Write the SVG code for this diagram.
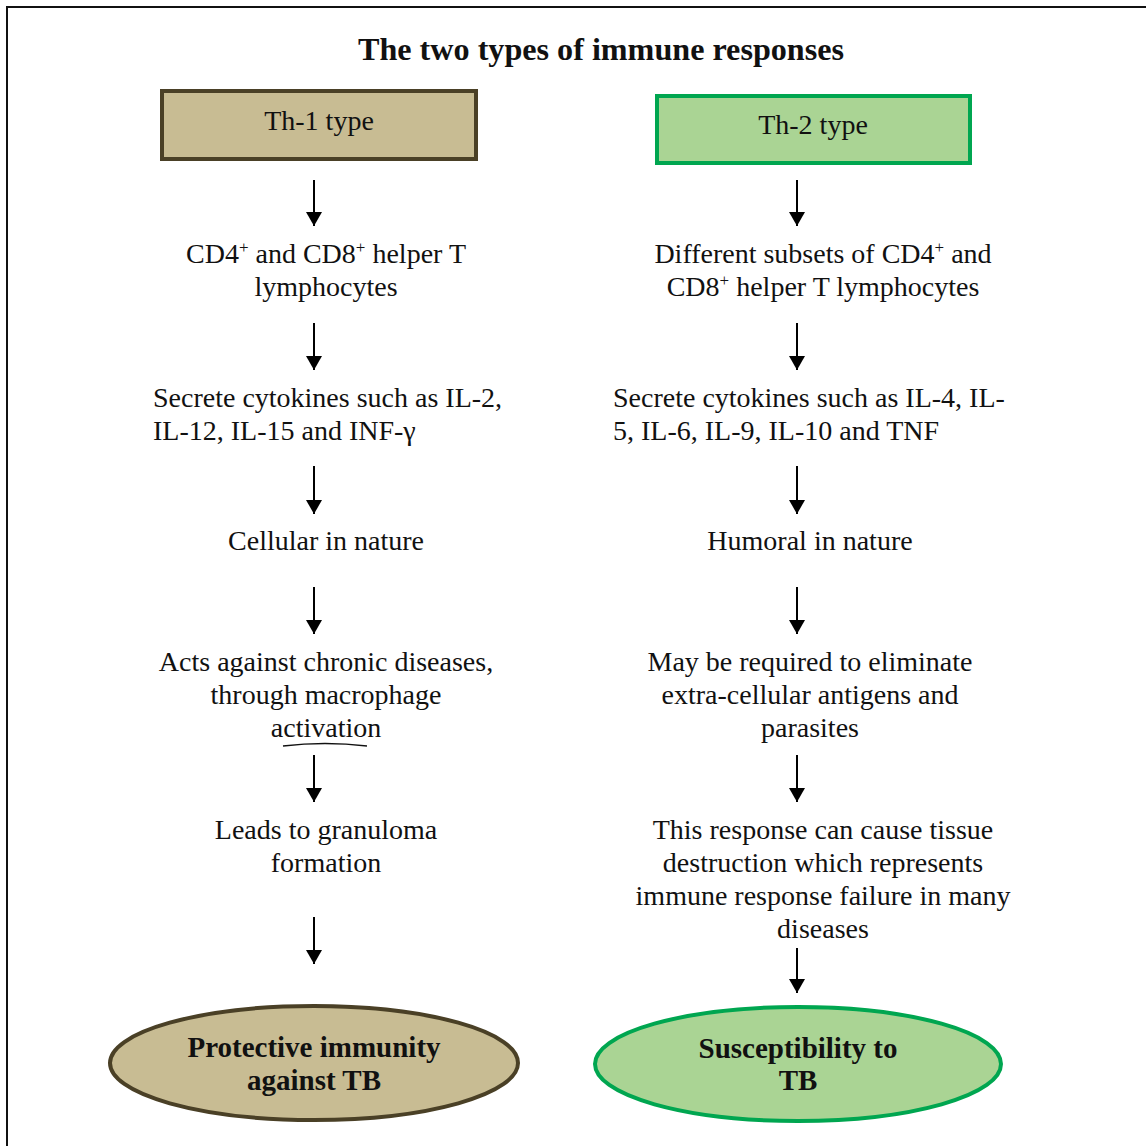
<svg xmlns="http://www.w3.org/2000/svg" width="1146" height="1146" viewBox="0 0 1146 1146">
  <defs>
    <marker id="arrowhead" viewBox="0 0 14 16" refX="14" refY="8" markerWidth="14" markerHeight="16" markerUnits="userSpaceOnUse" orient="auto">
      <path d="M0,0 L14,8 L0,16 z" fill="#000"/>
    </marker>
  </defs>
  <style>
    .txt { font-family: "Liberation Serif", "Times New Roman", serif; font-size: 28px; fill: #111; }
    .mid { text-anchor: middle; }
    .bold { font-weight: bold; font-size: 29px; }
    .sup { font-size: 17px; }
    .arrow { stroke: #000; stroke-width: 2; fill: none; }
    .box1 { fill: #c8bc93; stroke: #4a4026; stroke-width: 4; }
    .box2 { fill: #aad494; stroke: #00a650; stroke-width: 4; }
  </style>
  <rect width="1146" height="1146" fill="#fff"/>
  <!-- outer frame: top and left edges -->
  <polyline points="7,1146 7,7 1146,7" fill="none" stroke="#111" stroke-width="2"/>

  <text class="txt mid bold" x="601" y="60" style="font-size:31px" textLength="486" lengthAdjust="spacingAndGlyphs">The two types of immune responses</text>

  <g id="th1">
    <rect class="box1" x="162" y="91" width="314" height="68"/>
    <text class="txt mid" x="319" y="130">Th-1 type</text>
  </g>
  <g id="th2">
    <rect class="box2" x="657" y="96" width="313" height="67"/>
    <text class="txt mid" x="813" y="134">Th-2 type</text>
  </g>

  <g id="l-cells">
    <text class="txt mid" x="326" y="263">CD4<tspan class="sup" dy="-10">+</tspan><tspan dy="10"> and CD8</tspan><tspan class="sup" dy="-10">+</tspan><tspan dy="10"> helper T</tspan></text>
    <text class="txt mid" x="326" y="296">lymphocytes</text>
  </g>
  <g id="l-cytokines">
    <text class="txt" x="153" y="407">Secrete cytokines such as IL-2,</text>
    <text class="txt" x="153" y="440">IL-12, IL-15 and INF-γ</text>
  </g>
  <g id="l-nature">
    <text class="txt mid" x="326" y="550">Cellular in nature</text>
  </g>
  <g id="l-acts">
    <text class="txt mid" x="326" y="671">Acts against chronic diseases,</text>
    <text class="txt mid" x="326" y="704">through macrophage</text>
    <text class="txt mid" x="326" y="737">activation</text>
    <path d="M283,746 Q325,741 367,746" fill="none" stroke="#111" stroke-width="1.5"/>
  </g>
  <g id="l-granuloma">
    <text class="txt mid" x="326" y="839">Leads to granuloma</text>
    <text class="txt mid" x="326" y="872">formation</text>
  </g>

  <g id="r-cells">
    <text class="txt mid" x="823" y="263">Different subsets of CD4<tspan class="sup" dy="-10">+</tspan><tspan dy="10"> and</tspan></text>
    <text class="txt mid" x="823" y="296">CD8<tspan class="sup" dy="-10">+</tspan><tspan dy="10"> helper T lymphocytes</tspan></text>
  </g>
  <g id="r-cytokines">
    <text class="txt" x="613" y="407">Secrete cytokines such as IL-4, IL-</text>
    <text class="txt" x="613" y="440">5, IL-6, IL-9, IL-10 and TNF</text>
  </g>
  <g id="r-nature">
    <text class="txt mid" x="810" y="550">Humoral in nature</text>
  </g>
  <g id="r-eliminate">
    <text class="txt mid" x="810" y="671">May be required to eliminate</text>
    <text class="txt mid" x="810" y="704">extra-cellular antigens and</text>
    <text class="txt mid" x="810" y="737">parasites</text>
  </g>
  <g id="r-destruction">
    <text class="txt mid" x="823" y="839">This response can cause tissue</text>
    <text class="txt mid" x="823" y="872">destruction which represents</text>
    <text class="txt mid" x="823" y="905">immune response failure in many</text>
    <text class="txt mid" x="823" y="938">diseases</text>
  </g>

  <g id="protective">
    <ellipse class="box1" cx="314" cy="1063" rx="204" ry="57" stroke-width="5"/>
    <text class="txt mid bold" x="314" y="1057">Protective immunity</text>
    <text class="txt mid bold" x="314" y="1090">against TB</text>
  </g>
  <g id="susceptibility">
    <ellipse class="box2" cx="798" cy="1064" rx="203" ry="57" stroke="#1aa64a" stroke-width="5"/>
    <text class="txt mid bold" x="798" y="1058">Susceptibility to</text>
    <text class="txt mid bold" x="798" y="1090">TB</text>
  </g>

  <g id="connectors">
    <line class="arrow" x1="314" y1="180" x2="314" y2="226" marker-end="url(#arrowhead)"/>
    <line class="arrow" x1="314" y1="323" x2="314" y2="370" marker-end="url(#arrowhead)"/>
    <line class="arrow" x1="314" y1="466" x2="314" y2="514" marker-end="url(#arrowhead)"/>
    <line class="arrow" x1="314" y1="587" x2="314" y2="634" marker-end="url(#arrowhead)"/>
    <line class="arrow" x1="314" y1="755" x2="314" y2="802" marker-end="url(#arrowhead)"/>
    <line class="arrow" x1="314" y1="917" x2="314" y2="964" marker-end="url(#arrowhead)"/>
    <line class="arrow" x1="797" y1="180" x2="797" y2="226" marker-end="url(#arrowhead)"/>
    <line class="arrow" x1="797" y1="323" x2="797" y2="370" marker-end="url(#arrowhead)"/>
    <line class="arrow" x1="797" y1="466" x2="797" y2="514" marker-end="url(#arrowhead)"/>
    <line class="arrow" x1="797" y1="587" x2="797" y2="634" marker-end="url(#arrowhead)"/>
    <line class="arrow" x1="797" y1="755" x2="797" y2="802" marker-end="url(#arrowhead)"/>
    <line class="arrow" x1="797" y1="948" x2="797" y2="993" marker-end="url(#arrowhead)"/>
  </g>
</svg>
